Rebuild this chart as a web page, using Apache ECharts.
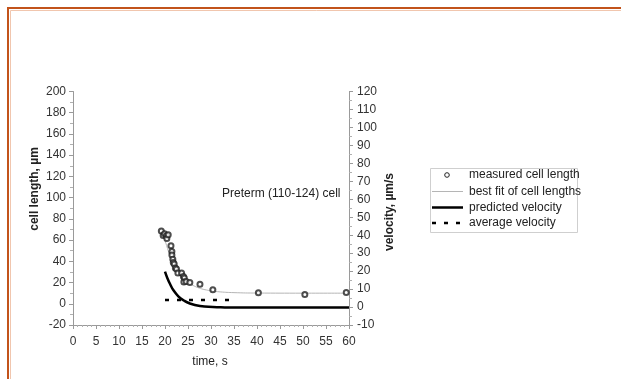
<!DOCTYPE html>
<html><head><meta charset="utf-8">
<script src="https://cdn.jsdelivr.net/npm/echarts@6/dist/echarts.min.js"></script>
<style>html,body{margin:0;padding:0;background:#fff;}#c{width:621px;height:379px;}</style>
</head><body><div id="c"></div>
<script>
// measured cell length (time s, length µm)
const measuredTime   = [19.2,19.6,19.9,20.3,20.4,20.7,21.3,21.5,21.5,21.7,21.8,22.0,22.25,22.5,22.8,23.6,24.0,24.2,24.1,24.6,25.4,27.6,30.4,40.3,50.4,59.4];
const measuredLength = [68.6,64.4,66,64,61.6,65,54.7,49.3,46,42,39,37.4,33.6,32.7,29,29,25.8,24.2,20.5,21,20,18.5,13.2,10.4,8.8,10.7];
// best fit of cell lengths
const fitTime   = [19.3,19.7,20.2,20.7,21.2,21.7,22.2,22.7,23.2,23.7,24.2,25,26,27,28,29,30,32,35,40,50,60];
const fitLength = [69,64,57,50,44,39,35,31,28,25.5,23,20,17.5,15.5,14,13,12.2,11.2,10.5,10.1,10,10];
// predicted velocity (µm/s, right axis)
const predTime = [20.0,20.5,21.1,21.8,22.9,24.0,25.4,27.6,30.4,33,36,40,50,60];
const predVel  = [19.7,16.2,12.8,9.5,6,3.8,2,0.6,0,-0.2,-0.3,-0.3,-0.3,-0.3];
// average velocity (µm/s, right axis)
const avgTime = [20,34.7];
const avgVel  = [3.9,3.9];
// axis ticks
const xTicks = {min:0,max:60,interval:5};
const yLeftTicks = {min:-20,max:200,interval:20};
const yRightTicks = {min:-10,max:120,interval:10};
// legend labels
const legendNames = ['measured cell length','best fit of cell lengths','predicted velocity','average velocity'];

const zip = (a,b)=>a.map((v,i)=>[v,b[i]]);
const chart = echarts.init(document.getElementById('c'));
const FONT = 'Liberation Sans, Arial, sans-serif';
const axisCommon = {
  axisLine:{show:true,onZero:false,lineStyle:{color:'#9a9a9a',width:1}},
  axisTick:{show:true,length:4,lineStyle:{color:'#9a9a9a'}},
  splitLine:{show:false},
};
// legend drawn as graphic
const LX=430, LY=168, rowY=[175,191.5,207.5,223];
const legendGraphic = [
  {type:'rect',shape:{x:LX+0.5,y:LY+0.5,width:147,height:64},style:{fill:'#fff',stroke:'#cfcfcf',lineWidth:1},z:10},
  {type:'circle',shape:{cx:447,cy:rowY[0],r:2.3},style:{fill:'#fff',stroke:'#222',lineWidth:1},z:11},
  {type:'line',shape:{x1:432,y1:rowY[1],x2:463,y2:rowY[1]},style:{stroke:'#b5b5b5',lineWidth:1},z:11},
  {type:'line',shape:{x1:432,y1:rowY[2],x2:463,y2:rowY[2]},style:{stroke:'#000',lineWidth:2.5},z:11},
  {type:'line',shape:{x1:432,y1:rowY[3],x2:463,y2:rowY[3]},style:{stroke:'#000',lineWidth:2.5,lineDash:[4,8]},z:11}
].concat(legendNames.map((t,i)=>({type:'text',x:469,y:rowY[i],z:11,
  style:{text:t,font:'12px '+FONT,fill:'#222',verticalAlign:'middle'}})));

chart.setOption({
  animation:false,
  backgroundColor:'#ffffff',
  grid:{left:73,top:91.5,right:272,bottom:54,containLabel:false},
  xAxis:Object.assign({type:'value',min:xTicks.min,max:xTicks.max,interval:xTicks.interval},axisCommon,{
    minorTick:{show:true,splitNumber:5,length:2,lineStyle:{color:'#b0b0b0'}},
    axisLabel:{color:'#333',fontSize:12,fontFamily:FONT,margin:11}}),
  yAxis:[
    Object.assign({type:'value',position:'left',min:yLeftTicks.min,max:yLeftTicks.max,interval:yLeftTicks.interval},axisCommon,{
      minorTick:{show:true,splitNumber:2,length:3,lineStyle:{color:'#b0b0b0'}},
      axisLabel:{color:'#333',fontSize:12,fontFamily:FONT,margin:7}}),
    Object.assign({type:'value',position:'right',min:yRightTicks.min,max:yRightTicks.max,interval:yRightTicks.interval},axisCommon,{
      minorTick:{show:true,splitNumber:2,length:3,lineStyle:{color:'#b0b0b0'}},
      axisLabel:{color:'#333',fontSize:12,fontFamily:FONT,margin:8}})
  ],
  series:[
    {name:legendNames[1],type:'line',yAxisIndex:0,data:zip(fitTime,fitLength),smooth:true,symbol:'none',
     lineStyle:{color:'#b5b5b5',width:1},itemStyle:{color:'#b5b5b5'},z:1},
    {name:legendNames[0],type:'scatter',yAxisIndex:0,data:zip(measuredTime,measuredLength),symbol:'emptyCircle',symbolSize:5,
     itemStyle:{color:'#222',borderColor:'#222',borderWidth:1},z:3},
    {name:legendNames[2],type:'line',yAxisIndex:1,data:zip(predTime,predVel),smooth:true,symbol:'none',
     lineStyle:{color:'#000',width:2.5},itemStyle:{color:'#000'},z:2},
    {name:legendNames[3],type:'line',yAxisIndex:1,data:zip(avgTime,avgVel),symbol:'none',
     lineStyle:{color:'#000',width:2.5,type:[4,8]},itemStyle:{color:'#000'},z:2}
  ],
  graphic:[
    {type:'rect',shape:{x:8,y:8,width:700,height:500},style:{fill:null,stroke:'#c2531b',lineWidth:2},silent:true},
    {type:'rect',shape:{x:10.5,y:10.5,width:700,height:500},style:{fill:null,stroke:'#f1c6ae',lineWidth:1},silent:true},
    {type:'text',left:222,top:188,style:{text:'Preterm (110-124) cell',font:'12px '+FONT,fill:'#222'}},
    {type:'text',x:35,y:189,rotation:Math.PI/2,style:{text:'cell length, µm',font:'bold 12px '+FONT,fill:'#222',align:'center',verticalAlign:'middle'}},
    {type:'text',x:390,y:212,rotation:Math.PI/2,style:{text:'velocity, µm/s',font:'bold 12px '+FONT,fill:'#222',align:'center',verticalAlign:'middle'}},
    {type:'text',x:210,y:362,style:{text:'time, s',font:'12px '+FONT,fill:'#222',align:'center',verticalAlign:'middle'}}
  ].concat(legendGraphic)
});
</script></body></html>
